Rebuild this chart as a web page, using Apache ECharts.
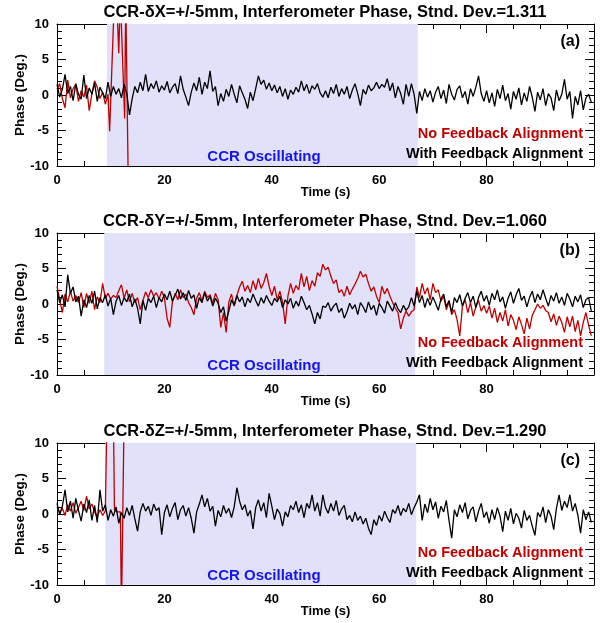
<!DOCTYPE html>
<html>
<head>
<meta charset="utf-8">
<script src="https://cdn.jsdelivr.net/npm/echarts@6/dist/echarts.min.js"></script>
<style>
  html, body { margin: 0; padding: 0; background: #fff; }
  #main { width: 601px; height: 623px; }
</style>
</head>
<body>
<div id="main"></div>
<script>
// sampling step of the phase records (s)
var tStep = 0.5

var titles = [
  'CCR-\u03B4X=+/-5mm, Interferometer Phase, Stnd. Dev.=1.311',
  'CCR-\u03B4Y=+/-5mm, Interferometer Phase, Stnd. Dev.=1.060',
  'CCR-\u03B4Z=+/-5mm, Interferometer Phase, Stnd. Dev.=1.290'
]
var panelTags = ['(a)', '(b)', '(c)']
var shadeStart = [9.3, 8.8, 9.0]
var shadeEnd = [67.2, 66.7, 66.9]

// with feedback alignment (black)
var blackA = [
  1.5, -0.3, 0.8, 2.9, 0.2, 1.2, -0.8, 1.6, 0.1, -0.6, 2.8, -0.5, 1.0, 0.1, 1.7, -0.9, 1.1, 0.3, -0.5, 1.8,
  -0.2, 1.2, 0.1, 0.9, -0.4, 1.5, 0.2, -2.8, -0.5, 1.2, 0.3, 1.8, 0.6, 2.9, 0.5, 1.6, 0.9, 2.0, 0.4, 1.3,
  0.7, 1.9, 0.3, 1.1, 1.6, 0.2, 2.7, 0.8, -0.3, -1.5, 0.4, 1.7, 0.6, 2.5, 0.1, 1.8, 0.9, 3.4, 0.5, 1.2,
  -1.5, 0.2, -0.9, 0.8, -0.2, 1.5, 0.1, -1.1, 1.3, 0.3, -0.6, -1.9, 0.4, -0.8, 0.9, 2.7, 1.5, 2.1, 0.8, 1.7,
  0.6, 1.4, 0.3, 1.2, -0.2, 0.9, -0.6, 0.7, 0.1, 1.1, 0.4, 2.0, 0.6, 1.5, 0.2, 1.3, 0.8, 1.6, 0.3, -0.3,
  0.6, -0.4, 1.1, 0.2, 1.5, -0.2, 0.9, 0.1, 1.2, -0.5, 0.7, 1.6, 0.2, -1.5, 0.8, 0.1, 1.4, 0.6, 1.0, 1.8,
  0.9, 1.5, 1.1, 2.3, 0.6, 1.7, -0.4, 1.2, 0.2, -1.3, 1.5, -0.2, 1.6, 0.1, -2.6, 0.5, -0.8, 0.9, -0.3, 0.6,
  -1.0, 0.4, 1.2, -0.5, 0.7, -1.2, 1.5, 0.1, -0.7, 0.8, 1.3, -0.4, 0.5, -1.3, 0.9, -0.2, 1.1, 2.7, 0.2, -0.9,
  0.6, -1.1, 0.3, -1.6, 0.8, -0.5, 1.4, -0.8, 0.2, -2.0, 0.5, -0.6, 1.0, -1.4, 0.3, -0.9, 1.2, -0.3, -2.3, 0.4,
  -0.7, 0.9, -1.5, 0.2, -0.4, -2.2, 0.7, -0.8, 0.1, 2.2, -0.6, 0.5, -3.3, -0.2, -1.4, 0.6, -2.1, -0.4, 0.1, -1.0
]
var blackB = [
  2.0, 0.2, 1.3, -0.4, 4.1, 1.5, 2.4, 0.3, 1.1, -1.7, 0.6, -0.5, 1.2, 0.1, 1.8, -0.7, 0.9, 0.2, 1.3, -0.3,
  0.8, -1.5, 0.4, 1.2, -0.2, 0.9, 0.3, 1.4, -0.4, 0.7, -0.6, -2.8, 0.5, -0.9, 0.8, 0.2, 1.1, -0.5, 0.9, 0.3,
  1.4, 0.6, 1.8, 0.4, 1.2, 2.1, 0.7, 1.6, 0.5, 1.9, 0.8, 1.3, -0.6, 0.9, 0.2, 1.6, 0.4, 1.1, -0.3, 0.8,
  0.1, -1.2, -0.4, -2.4, -1.0, 0.6, -0.2, 1.2, 0.3, 1.0, -0.4, 0.8, 0.2, 1.4, 0.5, -0.3, 0.9, 0.1, 1.2, 0.4,
  -0.2, 0.8, 0.3, 1.1, -0.5, 0.6, 0.0, 0.8, -0.6, 0.4, -0.3, 1.1, 0.2, -0.8, -0.2, -1.4, -2.8, -1.2, -2.1, -0.3,
  -0.5, 0.2, -1.0, -0.3, 0.1, -1.2, -0.6, -2.0, -1.1, 0.1, -0.7, -0.1, -1.5, 0.2, -0.4, -1.2, 0.3, -0.8, -0.2, -1.6,
  0.1, -0.5, -1.3, 0.4, -0.3, -1.0, 0.2, -0.7, -1.2, -0.2, -0.9, -0.4, 0.9, -0.3, 1.8, 0.2, 1.2, -0.5, 0.8, -0.2,
  1.0, 0.1, -0.9, 0.7, 1.4, -0.4, 0.5, -1.2, 0.9, 0.2, 1.3, -0.3, 0.8, 1.6, 0.2, 1.1, -0.5, 0.9, 1.8, 0.4,
  1.2, -0.2, 1.5, 0.6, 2.0, 0.3, 1.0, -0.6, 0.8, 1.7, 0.1, 1.3, 2.2, 0.5, 1.1, -0.4, 0.9, 1.8, 0.2, 1.4,
  0.6, 2.0, 0.8, -0.3, 1.2, 0.4, 1.6, 0.1, 1.0, -0.2, 1.5, 0.7, -0.4, 1.1, 0.3, 1.3, -0.5, 0.6, 0.9, -1.0
]
var blackC = [
  1.5, -0.1, 1.1, 3.4, 0.3, 1.8, -0.6, 2.2, 0.5, -1.0, 1.4, 0.2, 2.0, -0.9, 1.2, -1.2, 3.4, 0.4, 1.3, -0.9,
  0.6, -0.3, 1.0, -1.3, 0.2, -0.6, 0.9, -0.2, 1.2, -0.7, -2.4, 0.3, 1.5, 0.4, 1.1, -0.2, 1.4, 0.5, 0.9, -2.9,
  0.2, 1.3, -0.4, 0.8, 1.6, -0.8, 0.6, 1.2, -0.3, 0.9, -0.6, -2.7, 0.3, 1.4, 2.7, 1.0, 2.2, 0.4, 1.1, -1.7,
  0.5, -0.4, 1.2, 0.1, 0.8, -0.5, 1.0, 3.7, 1.8, 0.6, 1.3, -0.3, 0.5, -2.1, 0.9, 2.0, 0.4, 1.6, -0.5, 2.9,
  1.1, -0.8, 0.7, 0.1, -1.7, 0.3, -0.4, 1.2, 0.6, 1.8, 0.2, 1.3, -0.5, 1.5, 0.8, 2.7, 0.4, 1.6, -0.3, 2.7,
  0.9, 0.1, 1.5, 0.4, 1.9, -0.2, 0.7, 1.2, -0.8, -0.2, -1.1, 0.3, -0.9, -0.3, -1.4, -0.6, -2.0, -2.9, -0.8, -1.6,
  -0.2, -1.0, 0.4, -0.5, -1.2, 0.6, 0.1, 1.2, -0.2, 0.8, 0.3, 1.5, -0.1, 0.9, 1.7, 2.7, -0.9, 1.4, 0.2, 2.2,
  0.6, 1.7, -0.6, 1.1, 0.3, 1.9, -0.9, -3.4, 0.6, -0.4, 1.3, 0.2, 1.6, -0.7, 0.5, 1.0, -1.1, 0.4, 1.5, -0.5,
  0.3, -1.3, 0.6, -0.8, 0.9, -0.3, -2.5, 0.4, -0.9, 0.8, -1.4, 0.1, -0.6, -2.0, 0.5, -0.9, -0.2, -1.7, -3.0, 0.2,
  -0.4, 1.0, -1.2, 0.6, -0.3, -2.2, 0.8, 2.7, 0.5, 1.8, 0.9, 2.7, 0.4, 1.5, -0.2, -2.7, 0.6, -0.8, 0.3, -1.2
]

// no feedback alignment (red)
var redATime = [0, 0.5, 1, 1.5, 2, 2.5, 3, 3.5, 4, 4.5, 5, 5.5, 6, 6.5, 7, 7.5, 8, 8.5, 9, 9.5,
  9.8, 10.2, 10.7, 11.1, 11.5, 11.8, 12.0, 12.6, 12.8, 13.1, 13.3]
var redAValue = [0.8, 1.6, -0.5, -1.8, 2.1, -0.4, 0.9, 1.5, -0.9, 0.6, -0.3, 1.4, -2.2, 0.2, 2.0, 1.1, -0.5, 0.4, -1.3, 0.1,
  -5.1, 3.4, 14, 14, 5.9, 14, 14, -3.3, 14, 14, -14]
var redB = [
  2.5, 0.6, -1.2, 1.4, 0.3, 1.8, 0.4, 1.2, 0.2, 1.6, -0.5, 1.5, 0.1, 1.8, -0.8, 1.0, 0.2, 2.9, 0.8, 1.5,
  0.7, 1.2, 0.9, 1.9, 2.7, 0.8, 2.0, 0.3, 1.5, 0.2, 0.9, -0.8, 0.5, 1.7, 0.9, 2.0, 1.1, 1.6, 0.7, 1.8,
  0.9, -2.0, -3.3, 0.4, 1.5, 0.6, 2.0, 0.9, 1.4, 0.2, -0.5, -1.5, 0.8, 1.6, 0.4, 1.8, 0.9, 1.3, 0.1, 1.5,
  0.6, -3.3, -1.2, -4.0, 0.3, 1.4, -0.3, 1.2, 2.4, 3.2, 1.8, 2.6, 1.6, 3.3, 2.0, 3.6, 2.2, 3.0, 4.3, 2.5,
  1.2, 2.5, 0.6, 1.8, 0.3, -2.8, 1.1, 2.9, 1.5, 2.6, 2.0, 4.3, 2.4, 3.9, 1.9, 3.3, 2.5, 4.4, 3.9, 5.6,
  4.8, 5.2, 3.9, 2.9, 3.4, 1.6, 2.0, 1.1, 2.5, 1.3, 2.1, 2.8, 3.6, 4.6, 3.8, 4.2, 2.9, 1.8, 2.4, 1.1,
  0.2, 2.5, 1.4, 2.2, 1.1, 0.2, -0.6, -1.2, -3.5, -2.0, -1.0, -1.7, -1.1, -0.8, 2.4, 0.9, 2.9, 1.4, 2.3, 0.6,
  2.9, 1.6, 2.0, 0.4, 1.1, -0.8, 0.3, -1.5, -0.8, -2.2, -4.5, -0.3, 0.6, -1.2, 0.2, -1.7, -0.4, 0.5, -1.0, -0.2,
  -1.3, -0.3, -2.0, -0.6, -2.6, -1.2, -2.4, -0.8, -3.1, -1.5, -2.3, -3.6, -1.8, -2.9, -4.2, -2.0, -3.5, -1.6, -0.8, 0.0,
  -0.6, -0.2, -0.9, -1.2, -2.5, -1.4, -3.0, -1.7, -2.6, -4.0, -1.8, -3.2, -1.7, -3.9, -2.3, -4.5, -2.6, -1.2, -3.0, -4.5
]
var redCTime = [0, 0.5, 1, 1.5, 2, 2.5, 3, 3.5, 4, 4.5, 5, 5.5, 6, 6.5, 7, 7.5, 8, 8.5, 9,
  9.3, 10.5, 10.7, 11.2, 11.8, 12.0, 12.3, 12.5]
var redCValue = [1.0, 0.2, 0.8, -0.2, 1.3, 0.4, 1.6, 0.1, 0.9, 1.8, 0.5, 2.5, 0.7, 1.4, 0.3, -0.4, 0.6, -0.2, 0.4,
  14, 14, 0.6, 0.3, 0.3, -14, -14, 14]

function sampled(vals) {
  return vals.map(function(v, i) { return [i * tStep, v] })
}
function paired(ts, vals) {
  return ts.map(function(t, i) { return [t, vals[i]] })
}

var blackSets = [blackA, blackB, blackC].map(sampled)
var redSets = [paired(redATime, redAValue), sampled(redB), paired(redCTime, redCValue)]

var FONT = '"Liberation Sans", Arial, Helvetica, sans-serif'
var panelTops = [24, 233, 443]
var chart = echarts.init(document.getElementById('main'))

var grids = []
var xAxes = []
var yAxes = []
var series = []
var graphics = []

panelTops.forEach(function(top, i) {
  grids.push({ left: 57, right: 7, top: top, height: 142, containLabel: false, outerBoundsMode: 'none' })
  var tickStyle = { color: '#000', width: 1 }
  var xBase = {
    gridIndex: i, type: 'value', min: 0, max: 100, interval: 20,
    axisLine: { onZero: false, lineStyle: { color: '#000', width: 1 } },
    axisTick: { inside: true, length: 9, lineStyle: tickStyle },
    minorTick: { show: true, splitNumber: 4, length: 5, lineStyle: tickStyle },
    splitLine: { show: false }
  }
  xAxes.push(Object.assign({}, xBase, {
    position: 'bottom',
    axisLabel: { showMaxLabel: false, color: '#000', fontWeight: 'bold', fontSize: 13, fontFamily: FONT, margin: 8 },
    name: 'Time (s)', nameLocation: 'middle', nameGap: 20, nameMoveOverlap: false,
    nameTextStyle: { color: '#000', fontWeight: 'bold', fontSize: 13, fontFamily: FONT }
  }))
  xAxes.push(Object.assign({}, xBase, { position: 'top', axisLabel: { show: false } }))
  var yBase = {
    gridIndex: i, type: 'value', min: -10, max: 10, interval: 5,
    axisLine: { onZero: false, lineStyle: { color: '#000', width: 1 } },
    axisTick: { inside: true, length: 9, lineStyle: tickStyle },
    minorTick: { show: true, splitNumber: 5, length: 5, lineStyle: tickStyle },
    splitLine: { show: false }
  }
  yAxes.push(Object.assign({}, yBase, {
    position: 'left',
    axisLabel: { color: '#000', fontWeight: 'bold', fontSize: 13, fontFamily: FONT, margin: 8 },
    name: 'Phase (Deg.)', nameLocation: 'middle', nameGap: 30, nameMoveOverlap: false,
    nameTextStyle: { color: '#000', fontWeight: 'bold', fontSize: 13.5, fontFamily: FONT }
  }))
  yAxes.push(Object.assign({}, yBase, { position: 'right', axisLabel: { show: false } }))

  series.push({
    name: 'No Feedback Alignment', type: 'line',
    xAxisIndex: i * 2, yAxisIndex: i * 2,
    data: redSets[i], showSymbol: false, symbol: 'none', z: 2,
    lineStyle: { color: '#c00000', width: 1.3 },
    markArea: {
      silent: true,
      itemStyle: { color: '#e1e1fa' },
      data: [[{ xAxis: shadeStart[i] }, { xAxis: shadeEnd[i] }]]
    }
  })
  series.push({
    name: 'With Feedback Alignment', type: 'line',
    xAxisIndex: i * 2, yAxisIndex: i * 2,
    data: blackSets[i], showSymbol: false, symbol: 'none', z: 3,
    lineStyle: { color: '#000', width: 1.3 }
  })

  graphics.push({
    type: 'text', z: 10,
    style: { text: titles[i], x: 325, y: top - 12, align: 'center', verticalAlign: 'middle',
      font: 'bold 16.5px ' + FONT, fill: '#000' }
  })
  graphics.push({
    type: 'text', z: 10,
    style: { text: panelTags[i], x: 580, y: top + 18, align: 'right', verticalAlign: 'middle',
      font: 'bold 16px ' + FONT, fill: '#000' }
  })
  graphics.push({
    type: 'text', z: 10,
    style: { text: 'No Feedback Alignment', x: 583, y: top + 110, align: 'right', verticalAlign: 'middle',
      font: 'bold 14.5px ' + FONT, fill: '#c00000' }
  })
  graphics.push({
    type: 'text', z: 10,
    style: { text: 'With Feedback Alignment', x: 583, y: top + 130, align: 'right', verticalAlign: 'middle',
      font: 'bold 14.5px ' + FONT, fill: '#000' }
  })
  graphics.push({
    type: 'text', z: 10,
    style: { text: 'CCR Oscillating', x: 264, y: top + 133, align: 'center', verticalAlign: 'middle',
      font: 'bold 15px ' + FONT, fill: '#1414f0' }
  })
})

chart.setOption({
  animation: false,
  backgroundColor: '#fff',
  grid: grids,
  xAxis: xAxes,
  yAxis: yAxes,
  series: series,
  graphic: graphics
})
</script>
</body>
</html>
